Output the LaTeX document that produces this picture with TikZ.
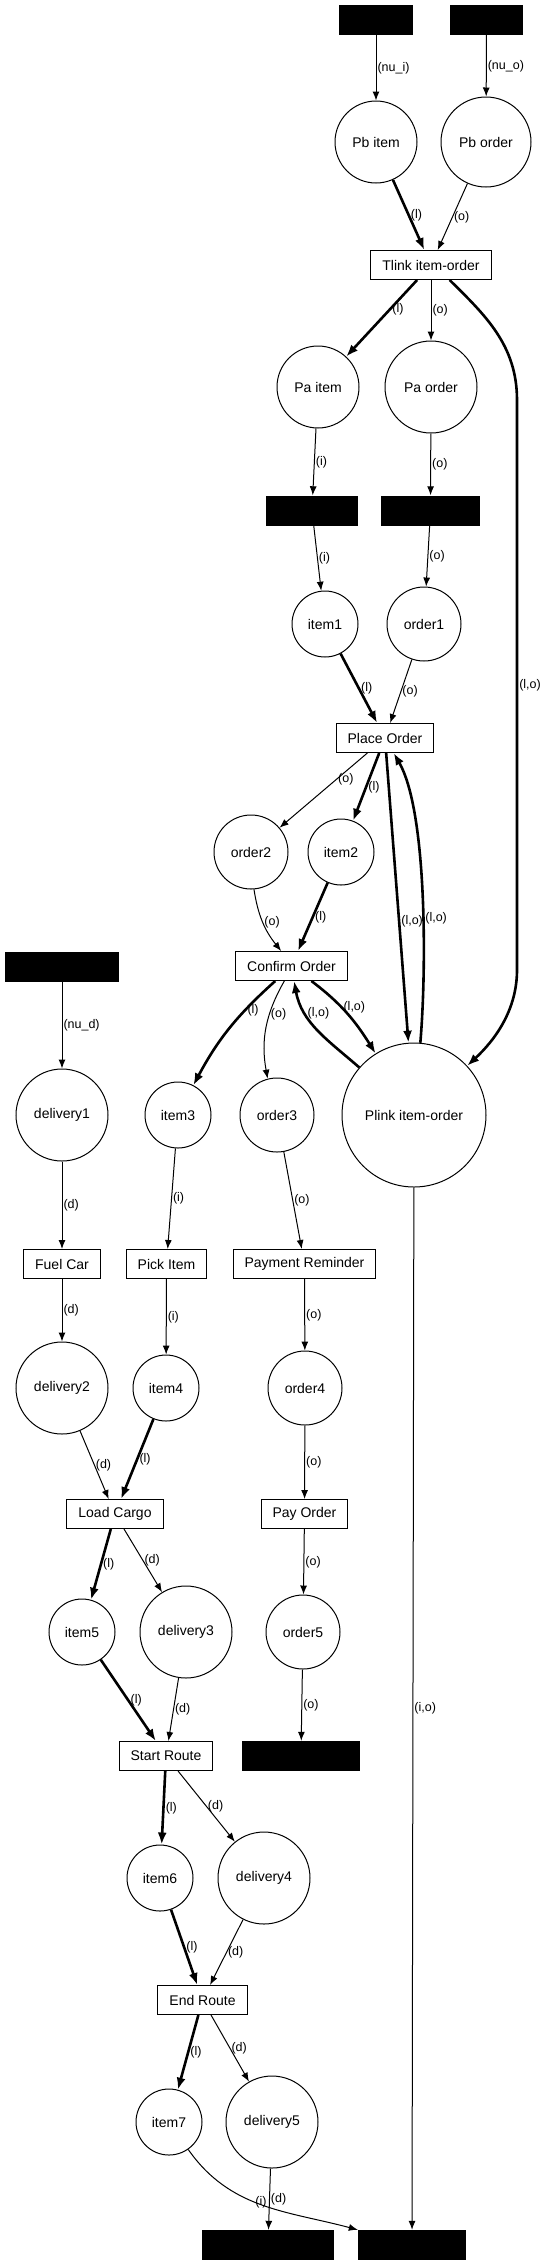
\documentclass[tikz,border=0pt]{standalone}
\usepackage{fontspec}
\setmainfont{Liberation Sans}
\usetikzlibrary{arrows.meta}

\begin{document}
\begin{tikzpicture}[x=1pt, y=1pt,
    place/.style={draw, circle, line width=1pt, inner sep=0pt, font=\fontsize{14}{16}\selectfont},
    trans/.style={draw, rectangle, line width=1pt, minimum height=29pt, inner xsep=11.5pt, inner ysep=0pt, font=\fontsize{14}{16}\selectfont},
    bar/.style={fill=black, minimum height=30pt, inner sep=0pt},
    arc/.style={line width=1pt, -{Latex[length=9pt, width=7pt]}},
    link/.style={line width=2.6pt, -{Latex[length=12pt, width=9pt]}},
    lbl/.style={font=\fontsize{12.5}{14}\selectfont, inner sep=1pt}]
    \useasboundingbox (0,0) rectangle (547,-2265);

    \node[bar, minimum width=74pt] (nui) at (376,-20) {};
    \node[bar, minimum width=73pt] (nuo) at (486.5,-20) {};
    \node[place, minimum size=82pt] (pbitem) at (376,-142) {Pb item};
    \node[place, minimum size=90pt] (pborder) at (486,-142) {Pb order};
    \node[trans] (tlink) at (431,-265) {Tlink item-order};
    \node[place, minimum size=82pt] (paitem) at (318,-387) {Pa item};
    \node[place, minimum size=92pt] (paorder) at (431,-387) {Pa order};
    \node[bar, minimum width=92pt] (outi) at (312,-510.5) {};
    \node[bar, minimum width=99pt] (outo) at (430.5,-510.5) {};
    \node[place, minimum size=66pt] (item1) at (325,-624) {item1};
    \node[place, minimum size=74pt] (order1) at (424,-624) {order1};
    \node[trans] (place) at (385,-738) {Place Order};
    \node[place, minimum size=74pt] (order2) at (251,-852) {order2};
    \node[place, minimum size=66pt] (item2) at (341,-852) {item2};
    \node[trans] (confirm) at (291.5,-966) {Confirm Order};
    \node[bar, minimum width=114pt] (nud) at (62,-967) {};
    \node[place, minimum size=92pt] (delivery1) at (62,-1115) {delivery1};
    \node[place, minimum size=66pt] (item3) at (178,-1115) {item3};
    \node[place, minimum size=74pt] (order3) at (277,-1115) {order3};
    \node[place, minimum size=144pt] (plink) at (414,-1115) {Plink item-order};
    \node[trans] (fuel) at (62,-1264) {Fuel Car};
    \node[trans] (pick) at (166.5,-1264) {Pick Item};
    \node[trans] (remind) at (304.5,-1264) {Payment Reminder};
    \node[place, minimum size=92pt] (delivery2) at (62,-1388) {delivery2};
    \node[place, minimum size=66pt] (item4) at (166,-1388) {item4};
    \node[place, minimum size=74pt] (order4) at (305,-1388) {order4};
    \node[trans] (load) at (115,-1514) {Load Cargo};
    \node[trans] (pay) at (304.5,-1514) {Pay Order};
    \node[place, minimum size=66pt] (item5) at (82,-1632) {item5};
    \node[place, minimum size=92pt] (delivery3) at (186,-1632) {delivery3};
    \node[place, minimum size=74pt] (order5) at (303,-1632) {order5};
    \node[trans] (start) at (166,-1756) {Start Route};
    \node[bar, minimum width=118pt] (endo) at (301,-1756) {};
    \node[place, minimum size=66pt] (item6) at (160,-1878) {item6};
    \node[place, minimum size=92pt] (delivery4) at (264,-1878) {delivery4};
    \node[trans] (finish) at (202.5,-2000) {End Route};
    \node[place, minimum size=66pt] (item7) at (169,-2122) {item7};
    \node[place, minimum size=92pt] (delivery5) at (272,-2122) {delivery5};
    \node[bar, minimum width=132pt] (endd) at (268,-2245) {};
    \node[bar, minimum width=108pt] (endi) at (412,-2245) {};

    \draw[arc] (nui) -- node[lbl, right] {(nu\_i)} (pbitem);
    \draw[arc] (nuo) -- node[lbl, right] {(nu\_o)} (pborder);
    \draw[link] (pbitem) -- node[lbl, right] {(l)} (tlink);
    \draw[arc] (pborder) -- node[lbl, right] {(o)} (tlink);
    \draw[link] (tlink) -- node[lbl, right, pos=.38] {(l)} (paitem);
    \draw[arc] (tlink) -- node[lbl, right] {(o)} (paorder);
    \draw[link] ([xshift=-42pt]tlink.south east) .. controls (485,-315) and (517,-345) .. (517,-400)
        -- node[lbl, right] {(l,o)} (517,-970) .. controls (517,-1010) and (495,-1040) .. (plink);
    \draw[arc] (paitem) -- node[lbl, right] {(i)} (outi);
    \draw[arc] (outi) -- node[lbl, right] {(i)} (item1);
    \draw[arc] (paorder) -- node[lbl, right] {(o)} (outo);
    \draw[arc] (outo) -- node[lbl, right] {(o)} (order1);
    \draw[link] (item1) -- node[lbl, right] {(l)} (place);
    \draw[arc] (order1) -- node[lbl, right] {(o)} (place);
    \draw[arc] (place) -- node[lbl, right, pos=.35] {(o)} (order2);
    \draw[link] (place) -- node[lbl, right] {(l)} (item2);
    \draw[link] (place) -- node[lbl, right, pos=.58] {(l,o)} (plink);
    \draw[link] (plink) to[out=85, in=-60, looseness=.6] node[lbl, right, pos=.43] {(l,o)} (place);
    \draw[arc] (order2) to[bend right=15] node[lbl, right] {(o)} (confirm);
    \draw[link] (item2) -- node[lbl, right] {(l)} (confirm);
    \draw[link] (confirm) to[out=-37, in=122] node[lbl, right, pos=.4] {(l,o)} (plink);
    \draw[link] (plink) to[out=139, in=-80] node[lbl, right, pos=.7] {(l,o)} (confirm);
    \draw[link] (confirm) to[bend right=10] node[lbl, right, pos=.3] {(l)} (item3);
    \draw[arc] (confirm) to[bend right=20] node[lbl, right, pos=.35] {(o)} (order3);
    \draw[arc] (nud) -- node[lbl, right] {(nu\_d)} (delivery1);
    \draw[arc] (delivery1) -- node[lbl, right] {(d)} (fuel);
    \draw[arc] (item3) -- node[lbl, right] {(i)} (pick);
    \draw[arc] (order3) -- node[lbl, right] {(o)} (remind);
    \draw[arc] (fuel) -- node[lbl, right] {(d)} (delivery2);
    \draw[arc] (pick) -- node[lbl, right] {(i)} (item4);
    \draw[arc] (remind) -- node[lbl, right] {(o)} (order4);
    \draw[arc] (delivery2) -- node[lbl, right] {(d)} (load);
    \draw[link] (item4) -- node[lbl, right] {(l)} (load);
    \draw[arc] (order4) -- node[lbl, right] {(o)} (pay);
    \draw[link] (load) -- node[lbl, right] {(l)} (item5);
    \draw[arc] (load) -- node[lbl, right] {(d)} (delivery3);
    \draw[arc] (pay) -- node[lbl, right] {(o)} (order5);
    \draw[link] (item5) -- node[lbl, right] {(l)} (start);
    \draw[arc] (delivery3) -- node[lbl, right] {(d)} (start);
    \draw[arc] (order5) -- node[lbl, right] {(o)} (endo);
    \draw[link] (start) -- node[lbl, right] {(l)} (item6);
    \draw[arc] (start) -- node[lbl, right] {(d)} (delivery4);
    \draw[link] (item6) -- node[lbl, right] {(l)} (finish);
    \draw[arc] (delivery4) -- node[lbl, right] {(d)} (finish);
    \draw[link] (finish) -- node[lbl, right] {(l)} (item7);
    \draw[arc] (finish) -- node[lbl, right] {(d)} (delivery5);
    \draw[arc] (delivery5) -- node[lbl, right] {(d)} (endd);
    \draw[arc] (item7) to[out=-55, in=165] node[lbl, right, pos=.45] {(i)} (endi.north west);
    \draw[arc] (plink) -- node[lbl, right] {(i,o)} (endi);
\end{tikzpicture}
\end{document}
